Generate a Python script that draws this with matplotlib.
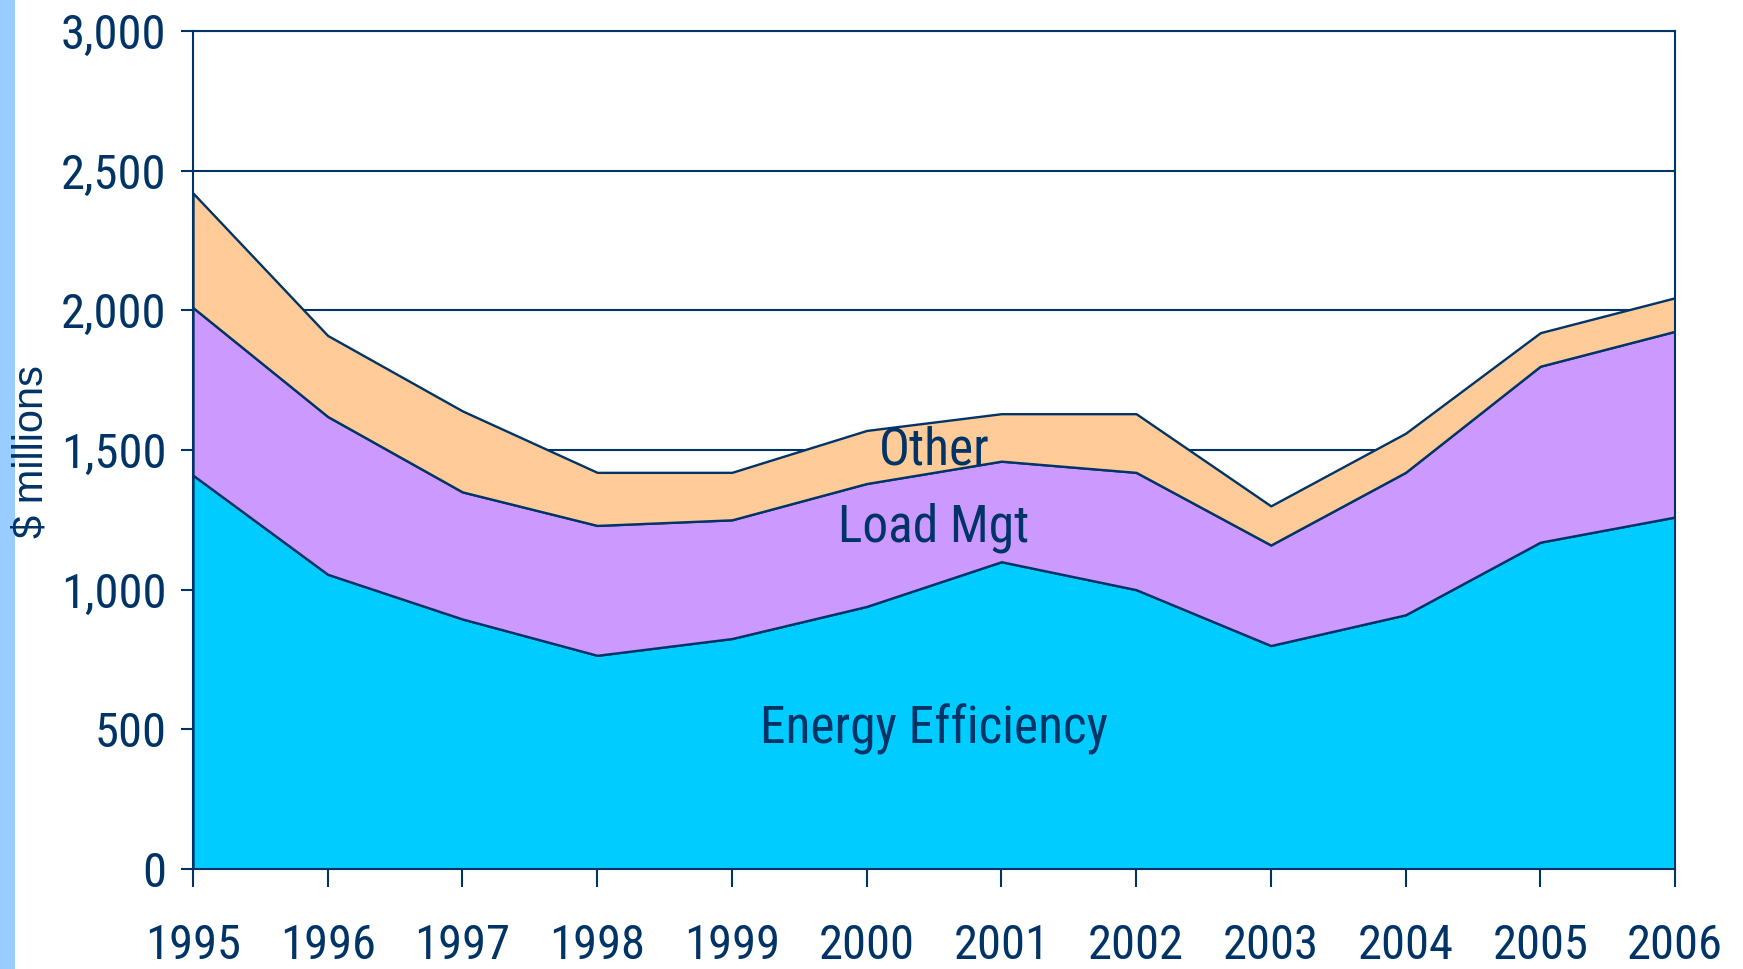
import numpy as np
import matplotlib
matplotlib.use("Agg")
import matplotlib.pyplot as plt
from matplotlib.patches import Rectangle
from matplotlib.ticker import FuncFormatter

years = [1995, 1996, 1997, 1998, 1999, 2000, 2001, 2002, 2003, 2004, 2005, 2006]
energy_eff = [1410, 1055, 895, 765, 825, 940, 1100, 1000, 800, 910, 1170, 1260]
load_mgt = [600, 565, 455, 465, 425, 440, 360, 420, 360, 510, 630, 665]
other = [410, 290, 290, 190, 170, 190, 170, 210, 140, 140, 120, 120]

navy = "#003366"
colors = ["#00CCFF", "#CC99FF", "#FFCC99"]
narrow = ["Roboto Condensed", "Liberation Sans", "DejaVu Sans"]

fig = plt.figure(figsize=(17.43, 9.69), dpi=100)
ax = fig.add_axes([0.1107, 0.1032, 0.8503, 0.8648])

# light blue strip on the left edge of the slide
fig.patches.append(Rectangle((0, 0), 15 / 1743, 1, transform=fig.transFigure,
                             facecolor="#99CCFF", edgecolor="none"))

ax.set_axisbelow(True)
ax.yaxis.grid(True, color=navy, linewidth=1.5)
ax.stackplot(years, energy_eff, load_mgt, other, colors=colors,
             edgecolor=navy, linewidth=1.7)

ax.set_xlim(years[0], years[-1])
ax.set_ylim(0, 3000)
ax.set_xticks(years)
ax.set_yticks(np.arange(0, 3001, 500))
ax.yaxis.set_major_formatter(FuncFormatter(lambda v, p: f"{int(v):,}"))

for s in ax.spines.values():
    s.set_color(navy)
    s.set_linewidth(1.5)

ax.tick_params(axis="x", direction="out", length=13, width=1.5, color=navy,
               pad=26, labelcolor=navy, labelsize=35)
ax.tick_params(axis="y", direction="out", length=9, width=1.5, color=navy,
               pad=10, labelcolor=navy, labelsize=35)
for lab in ax.get_xticklabels() + ax.get_yticklabels():
    lab.set_family(narrow)

fig.text(32 / 1743, 1 - 452 / 969, "$ millions", rotation=90, color=navy,
         fontsize=30, family=["Liberation Sans", "DejaVu Sans"],
         ha="center", va="center")

ax.text(2000.5, 1500, "Other", color=navy, fontsize=37, family=narrow,
        ha="center", va="center")
ax.text(2000.5, 1220, "Load Mgt", color=navy, fontsize=37, family=narrow,
        ha="center", va="center")
ax.text(2000.5, 500, "Energy Efficiency", color=navy, fontsize=37, family=narrow,
        ha="center", va="center")

fig.savefig("out.png", dpi=100, facecolor="white")
